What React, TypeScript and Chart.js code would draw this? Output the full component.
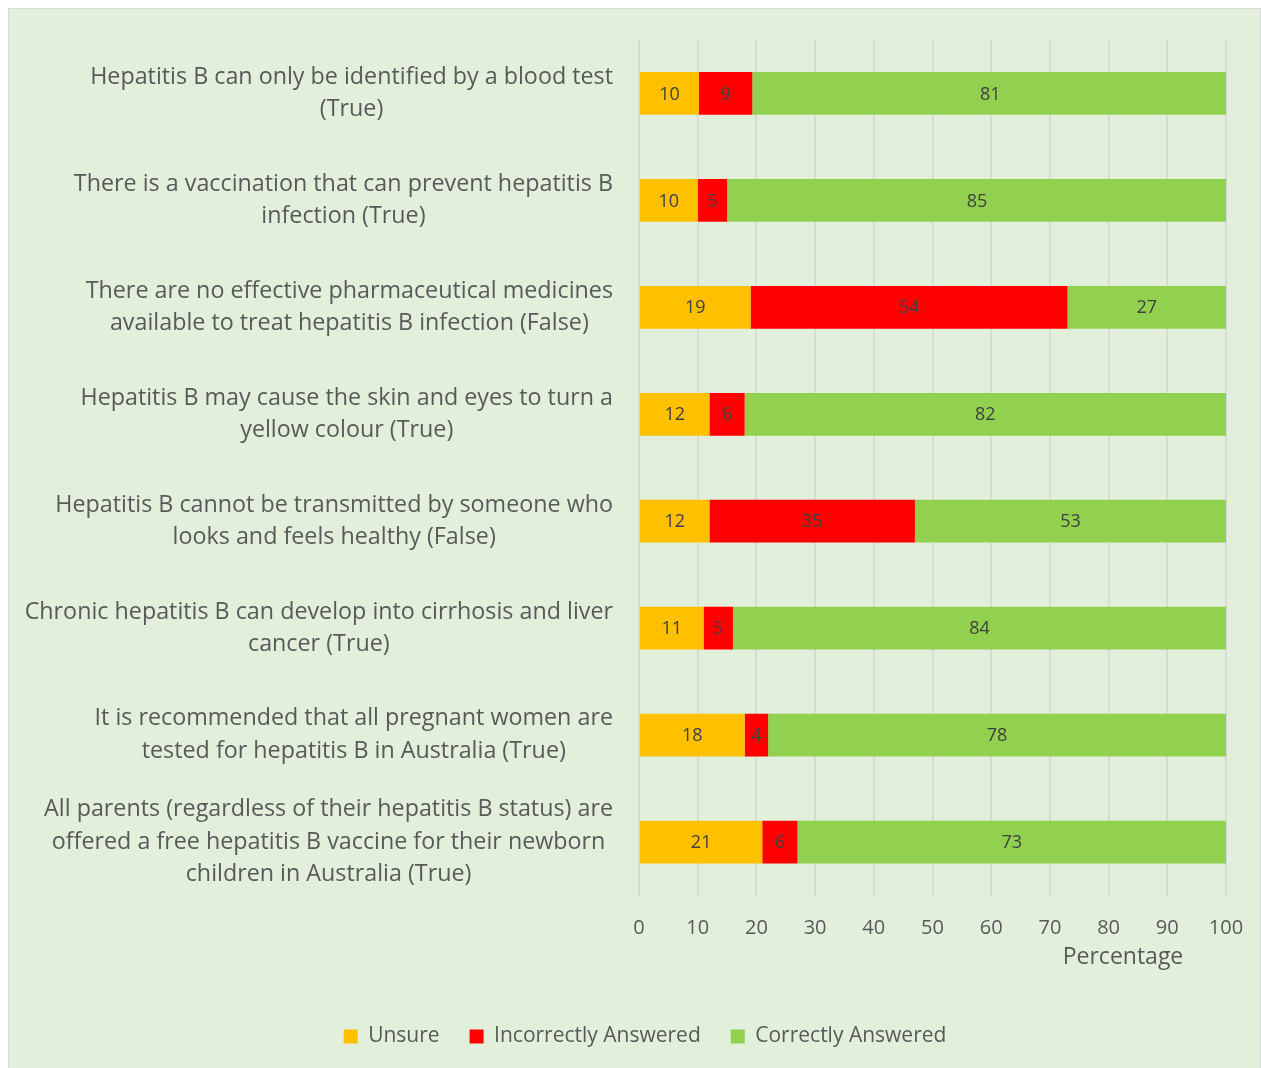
import { useEffect, useRef } from "react";
import { Chart, registerables } from "chart.js";

Chart.register(...registerables);

const categories: string[][] = [
  ["Hepatitis B can only be identified by a blood test", "(True)"],
  ["There is a vaccination that can prevent hepatitis B", "infection (True)"],
  ["There are no effective pharmaceutical medicines", "available to treat hepatitis B infection (False)"],
  ["Hepatitis B may cause the skin and eyes to turn a", "yellow colour (True)"],
  ["Hepatitis B cannot be transmitted by someone who", "looks and feels healthy (False)"],
  ["Chronic hepatitis B can develop into cirrhosis and liver", "cancer (True)"],
  ["It is recommended that all pregnant women are", "tested for hepatitis B in Australia (True)"],
  [
    "All parents (regardless of their hepatitis B status) are",
    "offered a free hepatitis B vaccine for their newborn",
    "children in Australia (True)",
  ],
];

const seriesNames = ["Unsure", "Incorrectly Answered", "Correctly Answered"];
const unsure = [10.2, 10, 19, 12, 12, 11, 18, 21];
const incorrect = [9.1, 5, 54, 6, 35, 5, 4, 6];
const correct = [81.1, 85.2, 27, 82, 53, 84, 78, 73];
const seriesColors = ["#FFC000", "#FF0000", "#92D050"];

const xMin = 0;
const xMax = 100;
const xStep = 10;
const xTitle = "Percentage";

const FONT = '"Open Sans", "Noto Sans", sans-serif';
const TEXT = "#595959";

const customText = {
  id: "customText",
  afterDatasetsDraw(chart: any) {
    const ctx = chart.ctx as CanvasRenderingContext2D;
    ctx.save();
    ctx.textAlign = "center";
    ctx.textBaseline = "middle";
    // data labels
    ctx.font = `18px ${FONT}`;
    ctx.fillStyle = "#404040";
    chart.data.datasets.forEach((ds: any, di: number) => {
      const meta = chart.getDatasetMeta(di);
      meta.data.forEach((el: any, i: number) => {
        const v = ds.data[i] as number;
        ctx.fillText(String(Math.round(v)), (el.x + el.base) / 2, el.y + 1);
      });
    });
    // category labels (centered lines, right-aligned block)
    const yScale = chart.scales.y;
    const right = chart.chartArea.left - 26;
    ctx.font = `23.3px ${FONT}`;
    ctx.fillStyle = TEXT;
    const lh = 32.5;
    categories.forEach((lines, i) => {
      const cy = yScale.getPixelForValue(i);
      const maxW = Math.max(...lines.map((l) => ctx.measureText(l).width));
      const cx = right - maxW / 2;
      lines.forEach((l, j) => {
        ctx.fillText(l, cx, cy - ((lines.length - 1) * lh) / 2 + j * lh);
      });
    });
    // x axis title
    ctx.font = `23px ${FONT}`;
    ctx.fillText(xTitle, chart.chartArea.right - 103, chart.chartArea.bottom + 61.5);
    ctx.restore();
  },
};

export default function App() {
  const ref = useRef<HTMLCanvasElement | null>(null);
  useEffect(() => {
    if (!ref.current) return;
    const chart = new Chart(ref.current, {
      type: "bar",
      data: {
        labels: categories.map((c) => c.join(" ")),
        datasets: [unsure, incorrect, correct].map((d, i) => ({
          label: seriesNames[i],
          data: d,
          backgroundColor: seriesColors[i],
          borderWidth: 0,
          barPercentage: 0.4,
          categoryPercentage: 1,
        })),
      },
      options: {
        indexAxis: "y",
        animation: false,
        responsive: true,
        maintainAspectRatio: false,
        layout: { padding: { top: 31, right: 34, bottom: 10, left: 55 } },
        plugins: {
          tooltip: { enabled: false },
          legend: {
            position: "bottom",
            labels: {
              boxWidth: 14,
              boxHeight: 14,
              padding: 30,
              color: TEXT,
              font: { family: FONT, size: 21 },
            },
          },
        },
        scales: {
          x: {
            stacked: true,
            min: xMin,
            max: xMax,
            border: { display: false },
            grid: {
              color: "#D9D9D9",
              lineWidth: 2,
              drawTicks: true,
              tickLength: 21,
              tickColor: "rgba(0,0,0,0)",
            },
            ticks: {
              stepSize: xStep,
              padding: 0,
              color: TEXT,
              font: { family: FONT, size: 20 },
            },
            afterFit: (scale: any) => {
              scale.height = 100.5;
            },
          },
          y: {
            stacked: true,
            border: { display: false },
            grid: { display: false },
            ticks: { display: false },
            afterFit: (scale: any) => {
              scale.width = 575;
            },
          },
        },
      },
      plugins: [customText],
    } as any);
    return () => chart.destroy();
  }, []);
  return (
    <div
      style={{
        position: "fixed",
        left: 8,
        top: 8,
        width: 1253,
        height: 1070,
        background: "#E2EFDA",
        border: "1px solid #D9D9D9",
        boxSizing: "border-box",
      }}
    >
      <div style={{ position: "absolute", left: 0, top: 0, width: 1251, height: 1058 }}>
        <canvas ref={ref} />
      </div>
    </div>
  );
}
